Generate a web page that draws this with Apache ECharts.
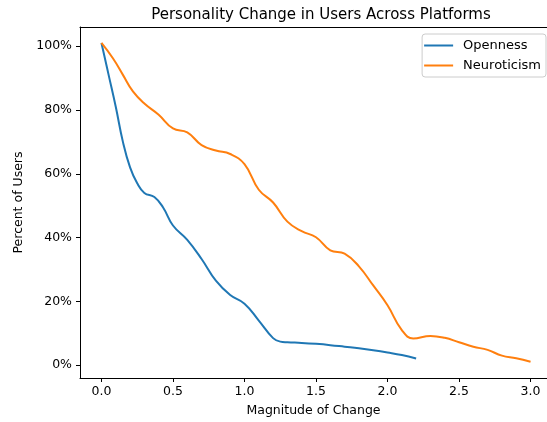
<!DOCTYPE html>
<html>
<head>
<meta charset="utf-8">
<script src="https://cdn.jsdelivr.net/npm/echarts@6/dist/echarts.min.js"></script>
<style>
html,body{margin:0;padding:0;background:#fff;}
#chart{width:547px;height:422px;}
</style>
</head>
<body>
<div id="chart"></div>
<script>
const xTicks = [0, 0.5, 1.0, 1.5, 2.0, 2.5, 3.0];
const yTicks = [0, 20, 40, 60, 80, 100];

const opennessX = [0.0, 0.05, 0.1, 0.15, 0.2, 0.25, 0.3, 0.37, 0.43, 0.5, 0.6, 0.7, 0.8, 0.9, 1.0, 1.1, 1.2, 1.25, 1.3, 1.4, 1.5, 1.6, 1.7, 1.8, 1.9, 2.0, 2.1, 2.2];
const opennessY = [101, 91, 81, 70, 62, 57, 54, 52.7, 49.5, 43.8, 39.3, 33.3, 26.5, 22, 19.3, 14, 8.5, 7.4, 7.2, 7.0, 6.7, 6.3, 5.8, 5.3, 4.7, 4.0, 3.2, 2.1];

const neuroX = [0.0, 0.08, 0.15, 0.22, 0.3, 0.4, 0.5, 0.6, 0.7, 0.8, 0.9, 1.0, 1.1, 1.2, 1.3, 1.4, 1.5, 1.6, 1.7, 1.8, 1.9, 2.0, 2.1, 2.18, 2.3, 2.4, 2.5, 2.6, 2.7, 2.8, 2.9, 3.0];
const neuroY = [101, 96.2, 91, 85.8, 82, 78.5, 74.2, 73, 69, 67.3, 66.2, 63, 55, 51, 45, 42, 40.1, 36, 35, 31, 25, 18.8, 11, 8.4, 9.2, 8.6, 7.2, 5.8, 4.8, 3, 2.2, 1.1];

const seriesNames = ['Openness', 'Neuroticism'];

const font = 'DejaVu Sans';
const chart = echarts.init(document.getElementById('chart'), null, {renderer: 'canvas'});
chart.setOption({
  animation: false,
  backgroundColor: '#fff',
  title: {
    text: 'Personality Change in Users Across Platforms',
    left: 316, top: 3, textAlign: 'center',
    textStyle: {fontFamily: font, fontSize: 15, fontWeight: 'normal', color: '#000'}
  },
  legend: {
    data: seriesNames,
    orient: 'vertical',
    right: 1, top: 34,
    itemWidth: 29, itemHeight: 2, itemGap: 7,
    icon: 'rect',
    backgroundColor: '#fff',
    borderColor: '#ccc', borderWidth: 1, borderRadius: 3,
    padding: [5, 5, 5, 2],
    textStyle: {fontFamily: font, fontSize: 13, color: '#000', padding: [0, 0, 0, 5]}
  },
  grid: {left: 80, right: 0, top: 27, bottom: 42, show: false, containLabel: false},
  xAxis: [{
    type: 'value', min: -0.15, max: 3.115,
    name: 'Magnitude of Change', nameLocation: 'middle', nameGap: 26,
    nameTextStyle: {fontFamily: font, fontSize: 12.5, color: '#000'},
    axisLine: {show: true, onZero: false, lineStyle: {color: '#000', width: 1}},
    axisTick: {show: true, length: 4, customValues: xTicks, lineStyle: {color: '#000'}},
    axisLabel: {customValues: xTicks, fontFamily: font, fontSize: 12.5, color: '#000', margin: 7, formatter: v => v.toFixed(1)},
    splitLine: {show: false}
  }, {
    type: 'value', position: 'top', min: -0.15, max: 3.115,
    axisLine: {show: true, onZero: false, lineStyle: {color: '#000', width: 1}},
    axisTick: {show: false}, axisLabel: {show: false}, splitLine: {show: false}
  }],
  yAxis: {
    type: 'value', min: -4, max: 106,
    name: 'Percent of Users', nameLocation: 'middle', nameGap: 54,
    nameTextStyle: {fontFamily: font, fontSize: 12.5, color: '#000'},
    axisLine: {show: true, onZero: false, lineStyle: {color: '#000', width: 1}},
    axisTick: {show: true, length: 4, customValues: yTicks, lineStyle: {color: '#000'}},
    axisLabel: {customValues: yTicks, fontFamily: font, fontSize: 12.5, color: '#000', margin: 8, formatter: v => v + '%'},
    splitLine: {show: false}
  },
  series: [
    {name: seriesNames[0], type: 'line', data: opennessX.map((x, i) => [x, opennessY[i]]), smooth: 0.45, symbol: 'none', color: '#1f77b4', lineStyle: {width: 2}},
    {name: seriesNames[1], type: 'line', data: neuroX.map((x, i) => [x, neuroY[i]]), smooth: 0.45, symbol: 'none', color: '#ff7f0e', lineStyle: {width: 2}}
  ]
});
</script>
</body>
</html>
